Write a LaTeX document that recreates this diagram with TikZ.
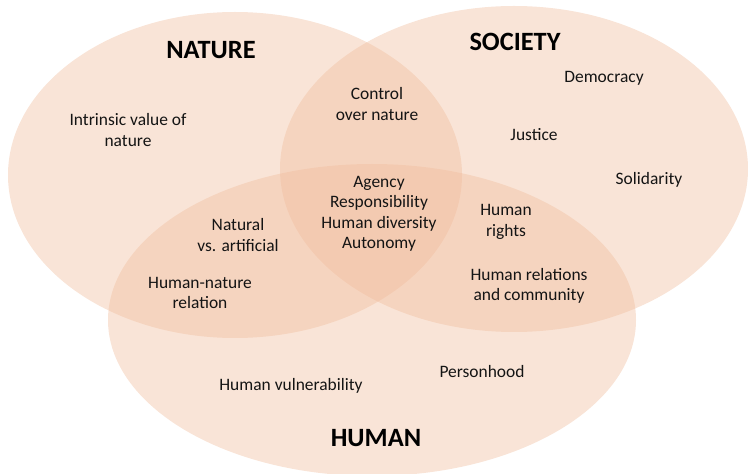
\documentclass[tikz,border=0pt]{standalone}
\usepackage{fontspec}
\setmainfont{Carlito}
\definecolor{venn}{RGB}{240,189,157}
\definecolor{ink}{RGB}{20,20,20}
\begin{document}
\begin{tikzpicture}[x=1bp, y=-1bp,
    blob/.style={fill=venn, fill opacity=0.41},
    topic/.style={align=center, text=ink, font=\fontsize{17.5}{20.5}\selectfont},
    heading/.style={text=black, font=\fontsize{26.5}{30}\selectfont\bfseries}]
    \useasboundingbox (0,0) rectangle (748,474);
    % Draw sets
    \coordinate (cnat) at (235,175);
    \coordinate (csoc) at (514,169);
    \coordinate (chum) at (372,320);
    \fill [blob] (cnat) ellipse [x radius=227, y radius=163];
    \fill [blob] (csoc) ellipse [x radius=234, y radius=163];
    \fill [blob] (chum) ellipse [x radius=264, y radius=156];
    % Headings
    \node [heading] (nature) at (211,50) {NATURE};
    \node [heading] (society) at (515,42) {SOCIETY};
    \node [heading] (human) at (376,438) {HUMAN};
    % Topics
    \node [topic] (intrinsic) at (128,130) {Intrinsic value of\\nature};
    \node [topic] (control) at (377,104) {Control\\over nature};
    \node [topic] (democracy) at (604,78) {Democracy};
    \node [topic] (justice) at (534,135) {Justice};
    \node [topic] (solidarity) at (649,180) {Solidarity};
    \node [topic] (core) at (379,214) {Agency\\Responsibility\\Human diversity\\Autonomy};
    \node [topic] (natural) at (238,235) {Natural\\vs. artificial};
    \node [topic] (rights) at (506,222) {Human\\rights};
    \node [topic] (humnat) at (200,293) {Human-nature\\relation};
    \node [topic] (community) at (529,286) {Human relations\\and community};
    \node [topic] (vulner) at (291,386) {Human vulnerability};
    \node [topic] (person) at (482,372) {Personhood};
\end{tikzpicture}
\end{document}
